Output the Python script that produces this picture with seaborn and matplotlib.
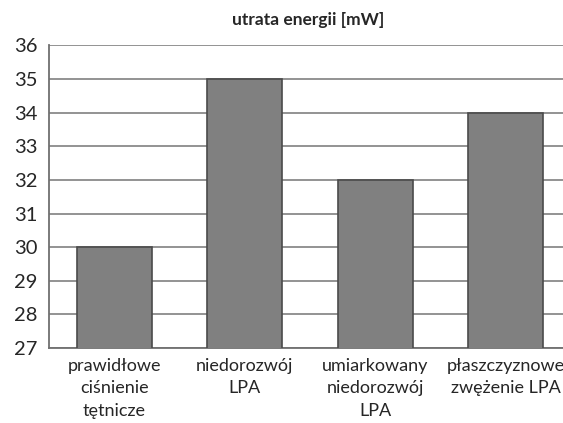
import matplotlib.pyplot as plt
import seaborn as sns
import pandas as pd

sns.set_style('white')
plt.rcParams['font.family'] = ['Lato', 'DejaVu Sans']

categories = ['prawidłowe\nciśnienie\ntętnicze', 'niedorozwój\nLPA',
              'umiarkowany\nniedorozwój\nLPA', 'płaszczyznowe\nzwężenie LPA']
values = [30, 35, 32, 34]

data = pd.DataFrame({'group': categories, 'loss': values})

fig = plt.figure(figsize=(5.63, 4.23), dpi=100)
ax = fig.add_axes([0.087, 0.177, 0.927, 0.716])

sns.barplot(data=data, x='group', y='loss', color='#808080', saturation=1,
            edgecolor='#4a4a4a', linewidth=1.2, width=0.575, ax=ax, zorder=3)

ax.set_xlim(-0.5, 3.5)
ax.set_ylim(27, 36)
ax.set_yticks(range(27, 37))
ax.yaxis.grid(True, color='#8a8a8a', linewidth=1.3, zorder=0)
ax.set_axisbelow(True)

for side in ['top', 'right']:
    ax.spines[side].set_visible(False)
for side in ['left', 'bottom']:
    ax.spines[side].set_color('#707070')
    ax.spines[side].set_linewidth(1.3)

ax.tick_params(axis='y', length=6, width=1.2, color='#707070', labelsize=14.5, pad=2)
ax.tick_params(axis='x', length=0, labelsize=13, pad=7)
for lbl in ax.get_xticklabels():
    lbl.set_linespacing(1.5)
ax.set_xlabel('')
ax.set_ylabel('')

fig.text(0.547, 0.953, 'utrata energii [mW]', ha='center', va='center',
         fontsize=12.5, fontweight='bold')

fig.savefig('out.png', dpi=100)
